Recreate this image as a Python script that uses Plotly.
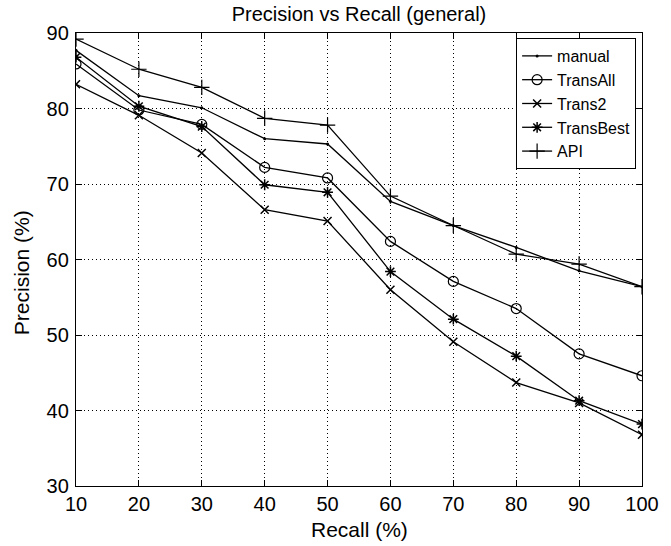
import plotly.graph_objects as go

recall = [10, 20, 30, 40, 50, 60, 70, 80, 90, 100]
manual = [87.7, 81.7, 80.1, 76.0, 75.3, 67.7, 64.5, 61.6, 58.5, 56.4]
trans_all = [85.9, 79.8, 77.9, 72.2, 70.8, 62.4, 57.1, 53.5, 47.5, 44.6]
trans2 = [83.2, 79.1, 74.1, 66.6, 65.1, 56.0, 49.1, 43.7, 41.0, 36.8]
trans_best = [86.8, 80.3, 77.6, 69.9, 68.9, 58.4, 52.1, 47.2, 41.3, 38.2]
api = [89.2, 85.2, 82.8, 78.7, 77.8, 68.4, 64.5, 60.7, 59.4, 56.4]
y_ticks = [30, 40, 50, 60, 70, 80, 90]

series = [
    ("manual", manual, dict(symbol="circle", size=3)),
    ("TransAll", trans_all, dict(symbol="circle-open", size=10, line=dict(width=1.2, color="black"))),
    ("Trans2", trans2, dict(symbol="x-thin-open", size=8, line=dict(width=1.5, color="black"))),
    ("TransBest", trans_best, dict(symbol="asterisk-open", size=9, line=dict(width=1.5, color="black"))),
    ("API", api, dict(symbol="cross-thin-open", size=11, line=dict(width=1.2, color="black"))),
]

fig = go.Figure()
for name, vals, mk in series:
    fig.add_trace(go.Scatter(
        x=recall, y=vals, name=name, mode="lines+markers",
        line=dict(color="black", width=1.3),
        marker=dict(color="black", **mk),
    ))

font = "Liberation Sans, Arial, Helvetica, sans-serif"
axis_common = dict(
    showline=True, linecolor="black", linewidth=1.3, mirror="ticks",
    ticks="inside", ticklen=6, tickcolor="black", tickwidth=1,
    showgrid=True, gridcolor="black", griddash="1px,3px", gridwidth=1,
    zeroline=False, tickfont=dict(size=20, color="black", family=font),
)

fig.update_layout(
    width=671, height=546,
    margin=dict(l=76, r=19, t=33, b=60),
    paper_bgcolor="white", plot_bgcolor="white",
    font=dict(family=font, color="black"),
    title=dict(text="Precision vs Recall (general)", x=0.5, xref="paper", xanchor="center",
               y=0.974, yref="container", yanchor="middle",
               font=dict(size=20, color="black", family=font)),
    xaxis=dict(range=[recall[0], recall[-1]], tickvals=recall, ticktext=[str(v) for v in recall],
               **axis_common),
    yaxis=dict(range=[y_ticks[0], y_ticks[-1]], tickvals=y_ticks, ticktext=[str(v) for v in y_ticks],
               ticklabelstandoff=2, **axis_common),
    legend=dict(x=0.9896, y=0.989, xanchor="right", yanchor="top",
                bordercolor="black", borderwidth=1, bgcolor="white",
                font=dict(size=16, color="black", family=font),
                tracegroupgap=0, itemwidth=30),
    showlegend=True,
    annotations=[
        dict(text="Recall (%)", xref="paper", yref="paper", x=0.5, y=-0.097,
             xanchor="center", yanchor="middle", showarrow=False,
             font=dict(size=21, color="black", family=font)),
        dict(text="Precision (%)", xref="paper", yref="paper", x=-0.097, y=0.47,
             xanchor="center", yanchor="middle", textangle=-90, showarrow=False,
             font=dict(size=21, color="black", family=font)),
    ],
)

fig.write_html("out.html")
